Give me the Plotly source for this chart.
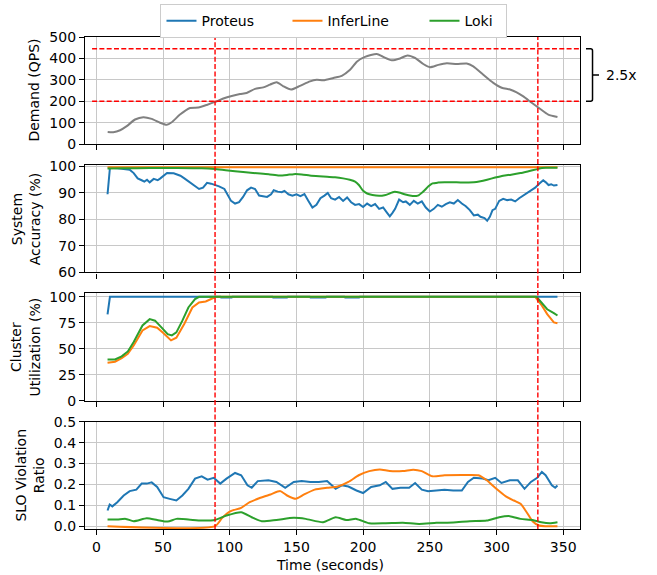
import plotly.graph_objects as go

# ---------------- data ----------------
t_demand = [8.5, 12.7, 17.8, 22.8, 29, 35.2, 41.5, 47.8, 52.8, 56.5, 62.7, 70.2, 76.5, 82.8, 89,
            95.2, 101.5, 107.7, 112.7, 119, 125.2, 130.2, 135.2, 140.2, 146, 152.7, 160.2, 165.2,
            170.2, 177.7, 184, 190.2, 195.5, 201.4, 210.2, 215.1, 221.4, 227.7, 233.2, 239, 245.1,
            250.1, 256.4, 262.7, 270.2, 277.7, 282.6, 290.1, 297.6, 303.9, 310.1, 315.1, 320.1,
            326.4, 332.6, 338.8, 345.7]
demand = [57, 56, 65, 84, 115, 126, 118, 100, 90, 102, 138, 169, 171, 183, 197,
          213, 225, 234, 239, 258, 265, 278, 289, 270, 255, 272, 293, 300,
          298, 309, 319, 347, 386, 407, 421, 407, 391, 400, 414, 402, 374,
          359, 370, 377, 374, 376, 363, 324, 286, 263, 255, 242, 223,
          193, 165, 138, 127]

# System accuracy (%)
t_acc_proteus = [8.4, 10.2, 16, 20, 25, 28, 31, 34, 36, 38, 40, 43, 46, 48, 51, 53, 58, 60, 63, 66,
                 70, 74, 77, 80, 83, 86, 89, 92, 96, 99, 101, 104, 107, 110, 113, 116, 119, 122,
                 125, 128, 131, 133, 136, 139, 141, 144, 147, 150, 153, 156, 159, 162, 165, 168,
                 171, 173.5, 176, 179, 182, 185, 188, 191, 194, 197, 200, 203, 206, 209, 212, 215,
                 218, 220, 222, 224, 227, 230, 232, 235, 238, 241, 244, 247, 250, 253, 256, 259,
                 262, 265, 268, 271, 274, 277, 280, 283, 286, 288, 291, 293, 295, 297, 299, 302,
                 305, 308, 311, 314, 317, 320, 323, 326, 329, 332, 335, 337, 339, 341, 343, 345.7]
acc_proteus = [89.5, 99.5, 99.3, 99.1, 98.8, 97.5, 95.5, 94.8, 94.3, 95.0, 94.0, 95.3, 94.8, 95.5,
               96.5, 97.5, 97.4, 97.0, 96.5, 95.5, 94.0, 92.5, 91.5, 92.0, 93.8, 93.5, 93.0, 92.5,
               91.5, 89.0, 87.0, 86.0, 86.5, 88.5, 91.0, 92.0, 91.5, 89.0, 88.7, 88.5, 89.5, 91.0,
               90.5, 90.3, 90.8, 89.5, 89.0, 89.5, 88.8, 89.6, 87.0, 84.5, 85.5, 88.0, 89.0, 90.0,
               88.0, 87.5, 88.5, 87.0, 88.3, 86.5, 85.5, 85.8, 84.7, 86.0, 85.0, 85.8, 84.0, 84.5,
               82.5, 81.2, 82.5, 84.0, 87.5, 86.5, 86.8, 85.5, 87.0, 86.0, 86.8, 84.5, 83.0, 84.0,
               85.5, 84.8, 85.8, 86.5, 86.0, 87.3, 86.0, 85.0, 83.5, 81.5, 81.8, 81.0, 80.5, 79.5,
               81.0, 83.5, 84.0, 87.0, 87.8, 87.3, 87.5, 86.8, 88.0, 89.0, 90.0, 91.3, 92.0, 93.5,
               94.8, 94.0, 93.0, 93.3, 92.8, 93.0]
t_acc_inferline = [8.4, 345.7]
acc_inferline = [99.7, 99.7]
t_acc_loki = [8.4, 20, 40, 60, 79, 89, 97, 104, 112, 123, 130, 137, 143, 148, 154, 160, 167, 173,
              179, 185, 190, 194, 197, 200, 203, 207, 212, 216, 220, 223, 227, 231, 236, 241, 245,
              249, 252, 256, 261, 270, 283, 288, 293, 299, 305, 311, 318, 324, 330, 334, 337, 345.7]
acc_loki = [99.2, 99.3, 99.4, 99.4, 99.3, 99.0, 98.6, 98.2, 97.8, 97.3, 97.0, 96.6, 96.8, 97.1,
            97.0, 96.6, 96.3, 96.1, 95.9, 95.5, 95.0, 94.3, 92.9, 90.8, 89.8, 89.2, 88.9, 89.1,
            89.8, 90.4, 90.2, 89.5, 88.9, 89.0, 90.5, 92.5, 93.6, 93.9, 94.0, 94.0, 94.0, 94.4,
            95.0, 95.8, 96.5, 96.9, 97.5, 98.2, 98.9, 99.4, 99.5, 99.5]

# Cluster utilization (%)
t_util_proteus = [8.4, 10.2, 93, 93.5, 101.5, 102, 132, 132.5, 143, 143.5, 160, 160.5, 172, 172.5,
                  186, 186.5, 197, 197.5, 345.7]
util_proteus = [83, 100, 100, 99.4, 99.4, 100, 100, 99.4, 99.4, 100, 100, 99.4, 99.4, 100,
                100, 99.4, 99.4, 100, 100]
t_util_inferline = [8.4, 14, 19, 23.6, 28, 34.6, 40, 45.6, 50, 56, 60, 66, 72, 77, 82, 86.5, 89.7,
                    329, 333.6, 338, 343, 345.7]
util_inferline = [36.5, 37.5, 41, 45.2, 53.2, 67.6, 71.8, 70.2, 65.4, 58, 60.6, 74, 89.7, 94.6,
                  95.5, 98.4, 100, 100, 92.3, 83.3, 75.3, 74.5]
t_util_loki = [8.4, 14, 19, 23.6, 28, 34.6, 40, 44, 48.8, 53.5, 56.6, 60, 64.5, 69, 74, 77, 330,
               333.6, 338, 343, 345.7]
util_loki = [39.6, 39.6, 42.6, 47.4, 56.4, 72.4, 78.5, 77, 70.5, 64, 62.8, 65.7, 77, 89.7, 97.8,
             100, 100, 94.6, 88, 84.3, 82]

# SLO violation ratio
t_slo_proteus = [8.4, 10, 12, 15.7, 20.5, 25, 30, 34, 37.8, 41.5, 45.6, 50.4, 55, 60, 64.5, 69, 74,
                 79, 83.4, 88, 92.9, 97.6, 104, 108.6, 113.3, 116.5, 121, 129, 135, 141.6, 148,
                 154, 160.5, 166.8, 173, 179.4, 184, 189, 195, 200, 206, 212.5, 217, 222, 228,
                 234.5, 239, 244, 248.7, 255, 261, 267.5, 274, 278.6, 283, 289.6, 294, 299, 303.7,
                 310, 316, 321, 325.8, 330.5, 334, 336.8, 341.5, 344, 345.7]
slo_proteus = [0.075, 0.104, 0.095, 0.115, 0.147, 0.168, 0.175, 0.204, 0.204, 0.21, 0.188, 0.139,
               0.131, 0.123, 0.147, 0.179, 0.228, 0.239, 0.223, 0.232, 0.204, 0.228, 0.255, 0.244,
               0.196, 0.184, 0.216, 0.22, 0.212, 0.184, 0.212, 0.216, 0.212, 0.212, 0.216, 0.179,
               0.196, 0.19, 0.171, 0.159, 0.188, 0.196, 0.212, 0.179, 0.184, 0.184, 0.207, 0.175,
               0.168, 0.171, 0.175, 0.171, 0.171, 0.212, 0.232, 0.228, 0.22, 0.232, 0.207, 0.22,
               0.22, 0.179, 0.212, 0.232, 0.26, 0.244, 0.196, 0.184, 0.195]
t_slo_inferline = [8.4, 89, 94.4, 100.7, 108.6, 115, 123, 130.6, 137.9, 143, 149.5, 155.8, 163.7,
                   173, 181, 189, 196.7, 204.6, 212.5, 220, 229.8, 237.6, 244, 252, 261, 274,
                   286.4, 292.7, 299, 307, 313, 318, 322.6, 327, 332, 336.8, 345.7]
slo_inferline = [0, 0, 0.04, 0.072, 0.088, 0.115, 0.136, 0.152, 0.168, 0.147, 0.131, 0.152, 0.175,
                 0.184, 0.19, 0.212, 0.244, 0.264, 0.272, 0.264, 0.264, 0.271, 0.264, 0.239,
                 0.244, 0.245, 0.244, 0.22, 0.184, 0.143, 0.123, 0.107, 0.067, 0.024, 0.003, 0, 0]
t_slo_loki = [8.4, 15.7, 22, 28, 37.8, 45.6, 53.5, 60, 69, 79, 89, 97.6, 108.6, 116.5, 124, 135,
              148, 157, 170, 179.4, 187.3, 195, 204.6, 217, 229.8, 242, 255, 267.5, 280, 292.7,
              302, 310, 318, 327, 333.6, 340, 345.7]
slo_loki = [0.032, 0.032, 0.035, 0.024, 0.038, 0.03, 0.022, 0.035, 0.032, 0.027, 0.03, 0.051,
            0.067, 0.043, 0.024, 0.03, 0.04, 0.035, 0.019, 0.043, 0.03, 0.035, 0.014, 0.014,
            0.016, 0.011, 0.016, 0.018, 0.024, 0.027, 0.043, 0.048, 0.035, 0.03, 0.019, 0.014,
            0.019]

systems = ["Proteus", "InferLine", "Loki"]
colors = {"Proteus": "#1f77b4", "InferLine": "#ff7f0e", "Loki": "#2ca02c"}
legend_widths = {"Proteus": 81, "InferLine": 92, "Loki": 37}

markers_x = [89, 331]          # vertical red lines (seconds)
demand_band = [200, 445]       # horizontal red lines (QPS)
band_label = "2.5x"

x_ticks = [0, 50, 100, 150, 200, 250, 300, 350]

# ---------------- figure ----------------
FONT = dict(family="DejaVu Sans", size=14, color="black")
GRID = "#c8c8c8"
X_RANGE = [-8.5, 362.6]
domains = [[0.7822, 1.0], [0.5215, 0.7393], [0.2609, 0.4787], [0.0, 0.2178]]

fig = go.Figure()

fig.add_trace(go.Scatter(x=t_demand, y=demand, mode="lines", line=dict(color="#808080", width=2,
                         shape="spline", smoothing=0.6), showlegend=False, xaxis="x", yaxis="y"))

panels = [
    ("x2", "y2", {"Proteus": (t_acc_proteus, acc_proteus), "InferLine": (t_acc_inferline, acc_inferline),
                  "Loki": (t_acc_loki, acc_loki)}),
    ("x3", "y3", {"Proteus": (t_util_proteus, util_proteus), "InferLine": (t_util_inferline, util_inferline),
                  "Loki": (t_util_loki, util_loki)}),
    ("x4", "y4", {"Proteus": (t_slo_proteus, slo_proteus), "InferLine": (t_slo_inferline, slo_inferline),
                  "Loki": (t_slo_loki, slo_loki)}),
]
for pi, (xa, ya, series) in enumerate(panels):
    for name in systems:
        tx, vy = series[name]
        smooth = name != "Proteus" and pi != 1
        fig.add_trace(go.Scatter(
            x=tx, y=vy, mode="lines", name=name, legendgroup=name, showlegend=(pi == 0),
            legendwidth=legend_widths[name],
            line=dict(color=colors[name], width=2, shape="spline" if smooth else "linear",
                      **({"smoothing": 0.6} if smooth else {})),
            xaxis=xa, yaxis=ya))

y_specs = [
    dict(range=[0, 500], tickvals=[0, 100, 200, 300, 400, 500]),
    dict(range=[60, 100.45], tickvals=[60, 70, 80, 90, 100]),
    dict(range=[0, 103.2], tickvals=[0, 25, 50, 75, 100]),
    dict(range=[-0.0135, 0.5], tickvals=[0, 0.1, 0.2, 0.3, 0.4, 0.5], tickformat=".1f"),
]

layout = dict(width=657, height=575, margin=dict(l=85, r=77, t=37, b=46, autoexpand=False),
              paper_bgcolor="white", plot_bgcolor="white", font=FONT, template="none",
              legend=dict(orientation="h", x=0.503, xanchor="center", y=1.067, yanchor="top",
                          bordercolor="#cccccc", borderwidth=1, bgcolor="white", font=FONT,
                          traceorder="normal"))
for i in range(4):
    xs = "xaxis" if i == 0 else f"xaxis{i+1}"
    ys = "yaxis" if i == 0 else f"yaxis{i+1}"
    common = dict(showgrid=True, gridcolor=GRID, gridwidth=1, showline=True, linecolor="black",
                  linewidth=1.2, mirror=True, ticks="outside", ticklen=5, tickwidth=1.2,
                  tickcolor="black", zeroline=False, tickfont=FONT)
    xd = dict(domain=[0, 1], anchor="y" if i == 0 else f"y{i+1}", range=X_RANGE,
              tickvals=x_ticks, showticklabels=(i == 3), **common)
    if i > 0:
        xd["matches"] = "x"
    layout[xs] = xd
    layout[ys] = dict(domain=domains[i], anchor="x" if i == 0 else f"x{i+1}", **y_specs[i], **common)

RED = dict(color="#ff0000", width=1.4, dash="5px,2.3px")
shapes = []
for xv in markers_x:
    shapes.append(dict(type="line", xref="x", yref="paper", x0=xv, x1=xv, y0=0, y1=1, line=RED,
                       layer="above"))
for yv in demand_band:
    shapes.append(dict(type="line", xref="x", yref="y", x0=-3.2, x1=X_RANGE[1], y0=yv, y1=yv,
                       line=RED, layer="above"))
x0, x1, x2 = 1.0121, 1.0253, 1.0384
ymid = (demand_band[0] + demand_band[1]) / 2
path = (f"M {x0},{demand_band[1]} L {x1-0.004},{demand_band[1]} Q {x1},{demand_band[1]} {x1},{demand_band[1]-9} "
        f"L {x1},{demand_band[0]+9} Q {x1},{demand_band[0]} {x1-0.004},{demand_band[0]} L {x0},{demand_band[0]} "
        f"M {x1},{ymid} L {x2},{ymid}")
shapes.append(dict(type="path", xref="paper", yref="y", path=path,
                   line=dict(color="black", width=1.5)))
layout["shapes"] = shapes

ann = [
    dict(text=band_label, x=1.0485, y=ymid, xref="paper", yref="y", xanchor="left",
         yanchor="middle", showarrow=False, font=FONT),
    dict(text="Demand (QPS)", x=-0.1030, y=sum(domains[0]) / 2, textangle=-90),
    dict(text="System<br>Accuracy (%)", x=-0.1202, y=sum(domains[1]) / 2, textangle=-90),
    dict(text="Cluster<br>Utilization (%)", x=-0.1202, y=sum(domains[2]) / 2, textangle=-90),
    dict(text="SLO Violation<br>Ratio", x=-0.1107, y=sum(domains[3]) / 2, textangle=-90),
    dict(text="Time (seconds)", x=0.495, y=-0.0722),
]
for a in ann[1:]:
    a.update(xref="paper", yref="paper", xanchor="center", yanchor="middle", showarrow=False,
             font=FONT)
layout["annotations"] = ann

fig.update_layout(**layout)
fig.write_html("out.html")
